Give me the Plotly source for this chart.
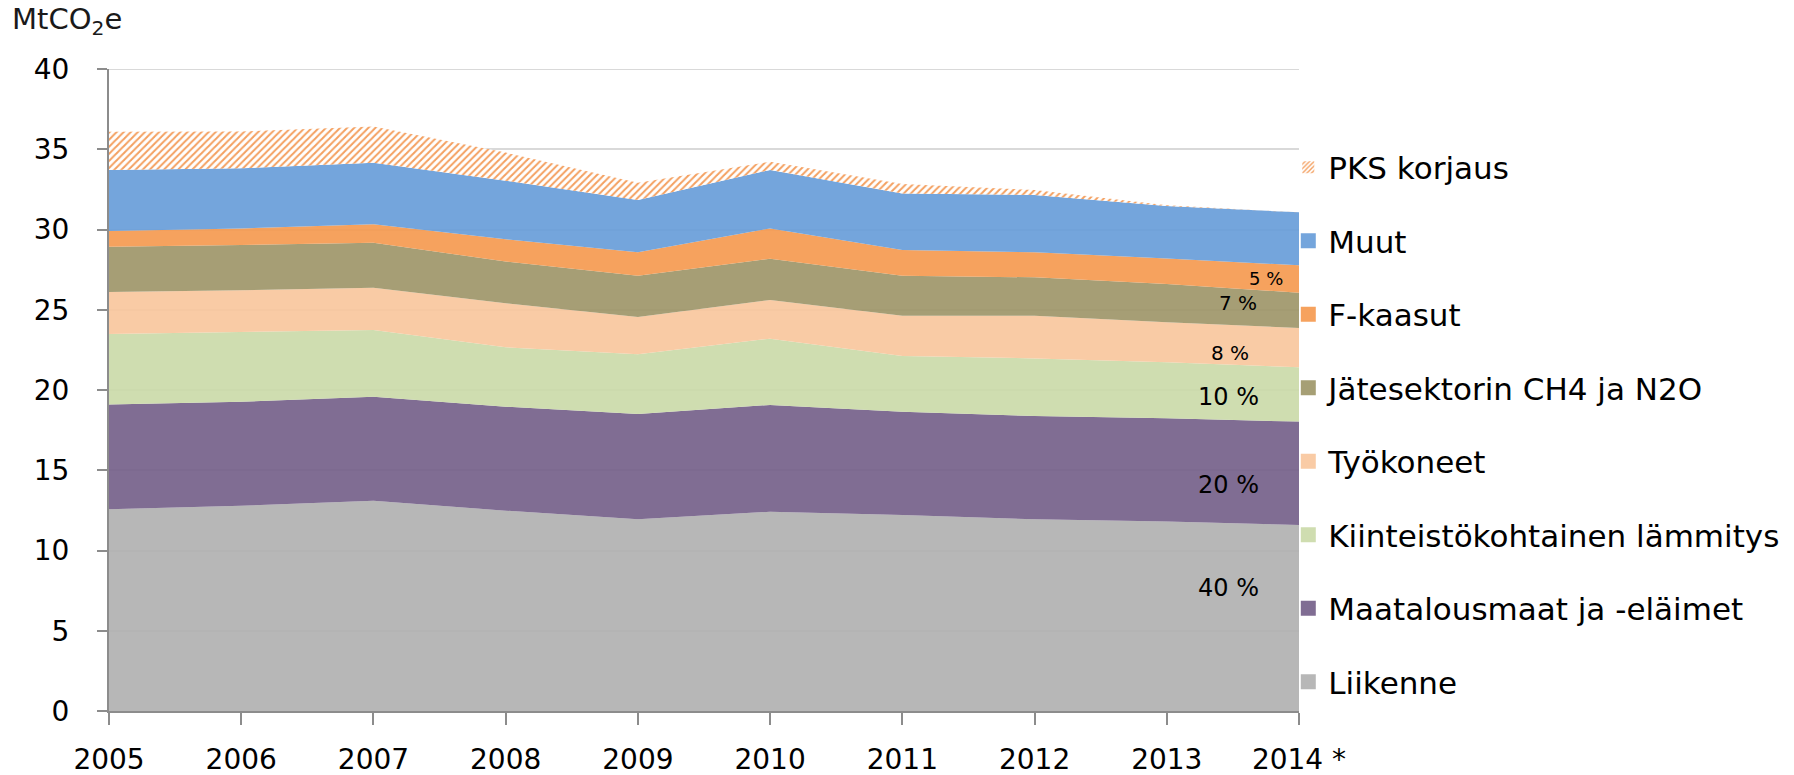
import plotly.graph_objects as go

# ---- data (MtCO2e) ----
years = [2005, 2006, 2007, 2008, 2009, 2010, 2011, 2012, 2013, 2014]
year_labels = ["2005", "2006", "2007", "2008", "2009", "2010", "2011", "2012", "2013", "2014 *"]

liikenne = [12.57, 12.79, 13.10, 12.48, 11.94, 12.42, 12.21, 11.94, 11.80, 11.59]
maatalous = [6.52, 6.48, 6.48, 6.48, 6.56, 6.65, 6.44, 6.44, 6.44, 6.44]
kiinteisto = [4.40, 4.33, 4.16, 3.70, 3.72, 4.13, 3.47, 3.59, 3.49, 3.38]
tyokoneet = [2.61, 2.61, 2.63, 2.74, 2.33, 2.41, 2.51, 2.66, 2.49, 2.45]
jate = [2.83, 2.82, 2.81, 2.60, 2.57, 2.57, 2.49, 2.39, 2.38, 2.20]
fkaasut = [0.97, 1.04, 1.14, 1.39, 1.46, 1.89, 1.60, 1.56, 1.60, 1.71]
muut = [3.81, 3.74, 3.84, 3.65, 3.26, 3.64, 3.53, 3.57, 3.26, 3.30]
pks = [2.38, 2.29, 2.25, 1.75, 1.08, 0.51, 0.58, 0.31, 0.05, 0.00]

series_names = ["Liikenne", "Maatalousmaat ja -eläimet", "Kiinteistökohtainen lämmitys",
                "Työkoneet", "Jätesektorin CH4 ja N2O", "F-kaasut", "Muut", "PKS korjaus"]
series_values = [liikenne, maatalous, kiinteisto, tyokoneet, jate, fkaasut, muut, pks]

share_labels = ["40 %", "20 %", "10 %", "8 %", "7 %", "5 %"]
y_ticks = [0, 5, 10, 15, 20, 25, 30, 35, 40]

# ---- styles ----
solid_colors = ["#b7b7b7", "#806d93", "#cfddb0", "#f9cba5", "#a69f75", "#f6a25e", "#74a5dc", None]
fill_colors = ["rgba(175,175,175,0.9)", "rgba(114,93,135,0.9)", "rgba(202,217,167,0.9)",
               "rgba(248,197,155,0.9)", "rgba(156,148,102,0.9)", "rgba(245,152,76,0.9)",
               "rgba(101,155,216,0.9)", None]
hatch_color = "#f4a060"
grid_color = "#d9d9d9"
label_y = [7.66, 14.08, 19.56, 22.3, 25.42, 26.92]
label_shift = [-38, -38, -38, -48, -40, -14]
label_size = [24, 24, 24, 20, 20, 18]

font_family = "'DejaVu Sans', sans-serif"

fig = go.Figure()

for name, vals, fc in zip(series_names, series_values, fill_colors):
    if fc is not None:
        fig.add_trace(go.Scatter(x=years, y=vals, name=name, mode="lines",
                                 stackgroup="one", line=dict(width=0),
                                 fillcolor=fc, showlegend=False, hoverinfo="x+y+name"))
    else:
        fig.add_trace(go.Scatter(x=years, y=vals, name=name, mode="lines",
                                 stackgroup="one", line=dict(width=0),
                                 fillcolor="white",
                                 fillpattern=dict(shape="/", fgcolor=hatch_color, bgcolor="white",
                                                  size=5, solidity=0.4, fillmode="replace"),
                                 showlegend=False, hoverinfo="x+y+name"))

# legend-only entries (square swatches), top to bottom
for name, col in reversed(list(zip(series_names, solid_colors))):
    if col is None:
        fig.add_trace(go.Bar(x=[None], y=[None], name=name,
                             marker=dict(color="white",
                                         pattern=dict(shape="/", fgcolor=hatch_color, bgcolor="white",
                                                      size=4, solidity=0.45, fillmode="replace"),
                                         line=dict(width=0)),
                             legendgroup=name, showlegend=True))
    else:
        fig.add_trace(go.Scatter(x=[None], y=[None], name=name, mode="markers",
                                 marker=dict(symbol="square", size=15, color=col, line=dict(width=0)),
                                 legendgroup=name, showlegend=True))

annotations = [
    dict(text="MtCO<sub>2</sub>e", xref="paper", yref="paper", x=-0.083, y=1.0,
         xanchor="left", yanchor="bottom", yshift=27, showarrow=False,
         font=dict(family=font_family, size=29, color="#1a1a1a")),
]
for txt, yv, xs, fs in zip(share_labels, label_y, label_shift, label_size):
    annotations.append(dict(text=txt, x=years[-1], y=yv, xref="x", yref="y",
                            xanchor="right", yanchor="middle", xshift=xs,
                            showarrow=False, font=dict(family=font_family, size=fs, color="black")))

fig.update_layout(
    width=1794, height=775,
    margin=dict(l=109, r=495, t=69, b=64, autoexpand=False),
    paper_bgcolor="white", plot_bgcolor="white",
    font=dict(family=font_family, size=28, color="black"),
    showlegend=True,
    legend=dict(x=0.991, y=0.8885, xanchor="left", yanchor="top",
                traceorder="grouped", tracegroupgap=30.2,
                font=dict(family=font_family, size=31, color="black"),
                bgcolor="rgba(0,0,0,0)", borderwidth=0),
    annotations=annotations,
    shapes=[dict(type="line", xref="paper", x0=0, x1=1, yref="y", y0=y_ticks[-1], y1=y_ticks[-1],
                 line=dict(color=grid_color, width=2), layer="below")],
    barmode="overlay",
)

fig.update_xaxes(range=[2005, 2014], tickmode="array", tickvals=years, ticktext=year_labels,
                 showgrid=False, zeroline=False, showline=True, linecolor="#8c8c8c", linewidth=2,
                 ticks="outside", ticklen=12, tickwidth=2, tickcolor="#8c8c8c",
                 ticklabelstandoff=10, tickfont=dict(family=font_family, size=28, color="black"))
fig.update_yaxes(range=[0, 40], tickmode="array", tickvals=y_ticks,
                 showgrid=True, gridcolor=grid_color, gridwidth=2,
                 zeroline=False, showline=True, linecolor="#8c8c8c", linewidth=2,
                 ticks="outside", ticklen=10, tickwidth=2, tickcolor="#8c8c8c",
                 ticklabelstandoff=22, tickfont=dict(family=font_family, size=28, color="black"))

fig.write_html("out.html", config={"displayModeBar": False},
               post_script="document.body.style.margin='0px';document.body.style.overflow='hidden';")
